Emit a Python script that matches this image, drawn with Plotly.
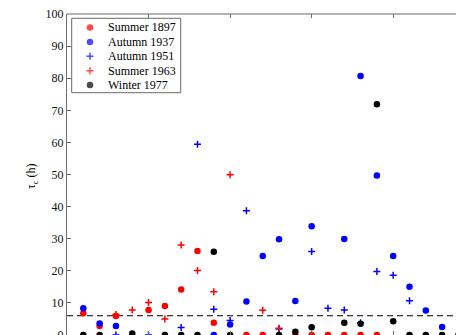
import plotly.graph_objects as go

# ---------------- data ----------------
x_vals = list(range(1, 25))

summer_1897 = [6.8, 2.8, 5.9, None, 7.8, 9.0, 14.2, 26.2, 3.8, None, 0, 0,
               None, 0, 0, 0, 0, 0, 0, None, None, None, None, None]
autumn_1937 = [8.3, 3.6, 2.8, None, None, None, None, None, 0, 3.3, 10.4, 24.6,
               29.8, 10.6, 33.9, None, 29.9, 80.7, 49.7, 24.6, 15.0, 7.6, 2.5, None]
autumn_1951 = [None, None, 0, None, 0, None, 2.3, 59.4, 8.0, 4.5, 38.7, None,
               1.9, None, 26.0, 8.3, 7.8, 3.8, 19.8, 18.6, 10.7, None, None, None]
summer_1963 = [None, None, 6.4, 7.8, 10.1, 5.0, 28.0, 20.1, 13.5, 49.9, None, 7.7,
               2.1, None, None, None, None, None, None, None, None, None, None, None]
winter_1977 = [0, 0, None, 0.5, None, 0, 0, 0, 25.9, 0, None, None,
               0, 1.0, 2.4, None, 3.8, 3.5, 71.9, 4.3, 0, 0, 0, 0]

series_names = ["Summer 1897", "Autumn 1937", "Autumn 1951", "Summer 1963", "Winter 1977"]
series_values = [summer_1897, autumn_1937, autumn_1951, summer_1963, winter_1977]
threshold = 6
y_tick_values = list(range(0, 101, 10))
x_tick_values = list(range(0, 31, 5))

# ---------------- layout geometry (window pixels) ----------------
WIN_W, WIN_H = 464, 335
BODY_OFF = 8                        # default page body margin
PL, PT, PR, PB = 67, 14, 464, 335   # plot area in window pixels
W, H = WIN_W - BODY_OFF, WIN_H - BODY_OFF
L, T = PL - BODY_OFF, PT - BODY_OFF
PW, PH = PR - PL, PB - PT
X_UNIT = 16.31                      # px per x unit
X_MAX = PW / X_UNIT

def px(xp):
    return (xp - PL) / PW

def py(yp):
    return (PB - yp) / PH

FONT = "Liberation Serif, Times New Roman, serif"
AXIS_GRAY = "#6a6a6a"

styles = [
    ("#ff0000", "circle"),
    ("#0000ff", "circle"),
    ("#0000ff", "cross-thin"),
    ("#ff0000", "cross-thin"),
    ("#000000", "circle"),
]
DOT_SIZE, PLUS_SIZE, PLUS_LW = 6.5, 5, 1.5

def marker(color, symbol):
    if symbol == "circle":
        return dict(symbol="circle", size=DOT_SIZE, color=color, line=dict(width=0))
    return dict(symbol="cross-thin", size=PLUS_SIZE, color=color,
                line=dict(width=PLUS_LW, color=color))

fig = go.Figure()
for name, ys, (color, symbol) in zip(series_names, series_values, styles):
    fig.add_trace(go.Scatter(x=x_vals, y=ys, mode="markers", name=name,
                             marker=marker(color, symbol), showlegend=False,
                             cliponaxis=True))

# ---------------- custom legend ----------------
LEG_BOX = (71.7, 18.3, 180.7, 92.7)
LEG_MX, LEG_TX, LEG_Y0, LEG_DY = 90, 106, 27.5, 14.4
rows = [LEG_Y0 + i * LEG_DY for i in range(len(series_names))]

fig.add_trace(go.Scatter(
    x=[LEG_MX] * len(series_names), y=rows, mode="markers",
    marker=dict(symbol=[s for _, s in styles],
                size=[DOT_SIZE if s == "circle" else PLUS_SIZE for _, s in styles],
                color=[c for c, _ in styles],
                line=dict(width=[0 if s == "circle" else PLUS_LW for _, s in styles],
                          color=[c for c, _ in styles])),
    xaxis="x2", yaxis="y2", showlegend=False, hoverinfo="skip", cliponaxis=False))

shapes = [
    dict(type="rect", xref="paper", yref="paper",
         x0=px(LEG_BOX[0]), x1=px(LEG_BOX[2]), y0=py(LEG_BOX[3]), y1=py(LEG_BOX[1]),
         line=dict(color=AXIS_GRAY, width=1), fillcolor="white", layer="below"),
    dict(type="line", xref="paper", yref="y", x0=0, x1=1, y0=threshold, y1=threshold,
         line=dict(color="black", width=1, dash="6px,4px"), layer="below"),
    dict(type="line", xref="paper", yref="paper", x0=0, x1=1, y0=1, y1=1,
         line=dict(color=AXIS_GRAY, width=1)),
]

annotations = [
    dict(text=name, xref="paper", yref="paper", x=px(LEG_TX), y=py(r),
         xanchor="left", yanchor="middle", showarrow=False,
         font=dict(family=FONT, size=12, color="black"))
    for name, r in zip(series_names, rows)
]
annotations.append(dict(text="τ<sub>c</sub> (h)", xref="paper", yref="paper",
                        x=px(32), y=py(176), xanchor="center", yanchor="middle",
                        textangle=-90, showarrow=False,
                        font=dict(family=FONT, size=12, color="black")))

fig.update_layout(
    width=W, height=H,
    margin=dict(l=L, r=0, t=T, b=0, pad=0, autoexpand=False),
    paper_bgcolor="white", plot_bgcolor="white",
    showlegend=False,
    shapes=shapes, annotations=annotations,
    xaxis=dict(range=[0, X_MAX], tickvals=x_tick_values, showticklabels=False,
               showline=False, ticks="inside", ticklen=4, tickwidth=1,
               tickcolor=AXIS_GRAY, mirror="ticks", showgrid=False, zeroline=False,
               automargin=False),
    yaxis=dict(range=[0, 100], tickvals=y_tick_values, showline=True,
               linecolor=AXIS_GRAY, linewidth=1, ticks="inside", ticklen=4,
               tickwidth=1, tickcolor=AXIS_GRAY, showgrid=False, zeroline=False,
               ticklabeloverflow="allow", automargin=False,
               tickfont=dict(family=FONT, size=12, color="#111111")),
    xaxis2=dict(overlaying="x", range=[PL, PR], visible=False, automargin=False),
    yaxis2=dict(overlaying="y", range=[PB, PT], visible=False, automargin=False),
)

fig.write_html("out.html")
